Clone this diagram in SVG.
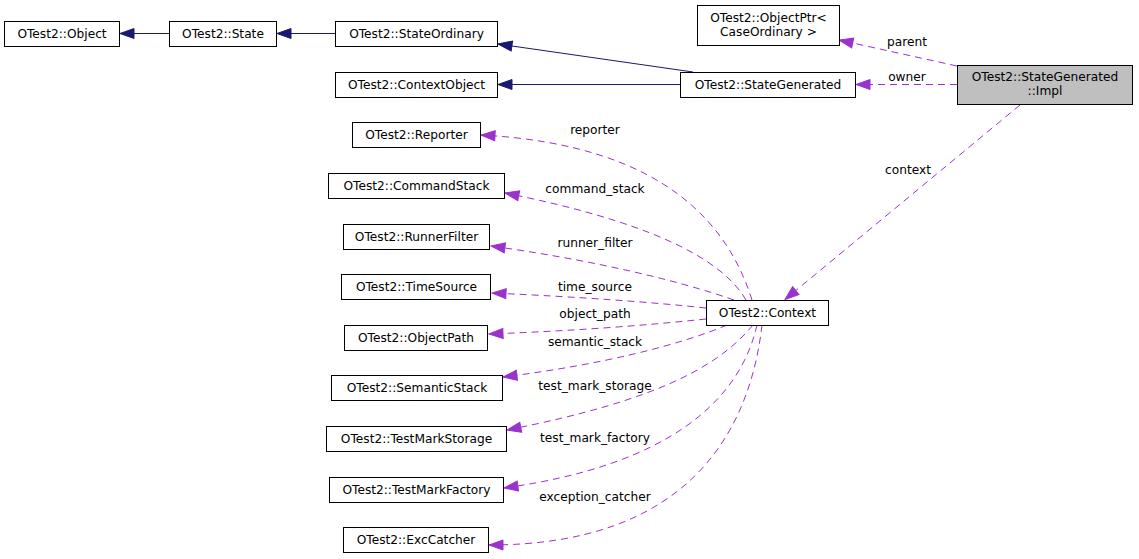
<svg xmlns="http://www.w3.org/2000/svg" width="1139" height="559" viewBox="0 0 1139 559">
<defs>
<marker id="inh" markerUnits="userSpaceOnUse" markerWidth="16" markerHeight="12" refX="14" refY="5" orient="auto" overflow="visible">
<path d="M0,0 L14,5 L0,10 Z" fill="#191970" stroke="#191970" stroke-width="1"/>
</marker>
<marker id="use" markerUnits="userSpaceOnUse" markerWidth="16" markerHeight="12" refX="14" refY="5" orient="auto" overflow="visible">
<path d="M0,0 L14,5 L0,10 Z" fill="#9a32cd" stroke="#9a32cd" stroke-width="1"/>
</marker>
</defs>
<style>
.box{fill:#ffffff;stroke:#000000;stroke-width:1}
.sel{fill:#bfbfbf;stroke:#000000;stroke-width:1}
text{font-family:"DejaVu Sans","Liberation Sans",sans-serif;font-size:12.2px;fill:#000000;text-anchor:middle}
.inh{fill:none;stroke:#191970;stroke-width:1;marker-end:url(#inh)}
.use{fill:none;stroke:#9a32cd;stroke-width:1;stroke-dasharray:7,5;marker-end:url(#use)}
</style>
<rect width="1139" height="559" fill="#ffffff"/>
<g id="connectors">
<path class="inh" d="M169,33.5 L120,33.5"/>
<path class="inh" d="M335,33.5 L277,33.5"/>
<path class="inh" d="M693,72 L498,44"/>
<path class="inh" d="M680,84.5 L498,84.5"/>
<path class="use" d="M957,66 L839,40"/>
<path class="use" d="M957,84.5 L856,84.5"/>
<path class="use" d="M1020,105 L785,299.5"/>
<path class="use" d="M752,300 C730,230 670,145 481,135"/>
<path class="use" d="M746,300 C720,255 640,220 505,193"/>
<path class="use" d="M734,300 C700,288 620,264 491,246"/>
<path class="use" d="M706,308 C650,302 580,297 492,293"/>
<path class="use" d="M706,319 C640,326 570,331 489,334"/>
<path class="use" d="M727,325 C680,345 600,365 503,377"/>
<path class="use" d="M753,325 C720,365 660,400 507,430"/>
<path class="use" d="M757,325 C740,400 670,465 504,488"/>
<path class="use" d="M762,325 C750,430 690,545 489,545"/>
<text x="907" y="46">parent</text>
<text x="907" y="81">owner</text>
<text x="908" y="174">context</text>
<text x="595" y="134">reporter</text>
<text x="595" y="193">command_stack</text>
<text x="595" y="246.5">runner_filter</text>
<text x="595" y="290.5">time_source</text>
<text x="595" y="318">object_path</text>
<text x="595" y="346">semantic_stack</text>
<text x="595" y="389.5">test_mark_storage</text>
<text x="595" y="442">test_mark_factory</text>
<text x="595" y="500.5">exception_catcher</text>
</g>
<g id="n-object"><rect class="box" x="4.5" y="21.5" width="115" height="25"/><text x="62" y="38">OTest2::Object</text></g>
<g id="n-state"><rect class="box" x="169.5" y="21.5" width="107" height="25"/><text x="223" y="38">OTest2::State</text></g>
<g id="n-stateordinary"><rect class="box" x="335.5" y="21.5" width="162" height="25"/><text x="416.5" y="38">OTest2::StateOrdinary</text></g>
<g id="n-contextobject"><rect class="box" x="335.5" y="72.5" width="162" height="25"/><text x="416.5" y="89">OTest2::ContextObject</text></g>
<g id="n-objectptr"><rect class="box" x="697.5" y="5.5" width="142" height="40"/><text x="768.5" y="22">OTest2::ObjectPtr&lt;</text><text x="768.5" y="35.5">CaseOrdinary &gt;</text></g>
<g id="n-stategenerated"><rect class="box" x="680.5" y="72.5" width="175" height="25"/><text x="768" y="89">OTest2::StateGenerated</text></g>
<g id="n-impl"><rect class="sel" x="957.5" y="65.5" width="175" height="39"/><text x="1045" y="81">OTest2::StateGenerated</text><text x="1045" y="94.5">::Impl</text></g>
<g id="n-reporter"><rect class="box" x="352.5" y="122.5" width="128" height="25"/><text x="416.5" y="139">OTest2::Reporter</text></g>
<g id="n-commandstack"><rect class="box" x="328.5" y="173.5" width="176" height="25"/><text x="416.5" y="190">OTest2::CommandStack</text></g>
<g id="n-runnerfilter"><rect class="box" x="343.5" y="224.5" width="146" height="25"/><text x="416.5" y="241">OTest2::RunnerFilter</text></g>
<g id="n-timesource"><rect class="box" x="341.5" y="274.5" width="149" height="25"/><text x="416.5" y="291">OTest2::TimeSource</text></g>
<g id="n-context"><rect class="box" x="706.5" y="300.5" width="122" height="25"/><text x="767.5" y="317">OTest2::Context</text></g>
<g id="n-objectpath"><rect class="box" x="344.5" y="325.5" width="143" height="25"/><text x="416" y="342">OTest2::ObjectPath</text></g>
<g id="n-semanticstack"><rect class="box" x="331.5" y="375.5" width="171" height="25"/><text x="417" y="392">OTest2::SemanticStack</text></g>
<g id="n-testmarkstorage"><rect class="box" x="326.5" y="426.5" width="180" height="25"/><text x="416.5" y="443">OTest2::TestMarkStorage</text></g>
<g id="n-testmarkfactory"><rect class="box" x="329.5" y="477.5" width="174" height="25"/><text x="416.5" y="494">OTest2::TestMarkFactory</text></g>
<g id="n-exccatcher"><rect class="box" x="343.5" y="527.5" width="145" height="25"/><text x="416" y="544">OTest2::ExcCatcher</text></g>
</svg>
